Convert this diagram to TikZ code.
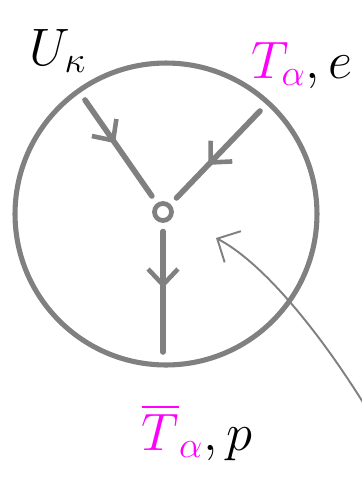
\RequirePackage{fix-cm}
\documentclass[tikz,border=0pt]{standalone}
\usepackage{amsmath,amssymb}
\usepackage{xcolor}
\usetikzlibrary{arrows.meta,decorations.markings}
\definecolor{inkgray}{HTML}{808080}
\definecolor{inkpink}{HTML}{FF00FF}

\begin{document}
\begin{tikzpicture}[x=0.02cm, y=-0.02cm, every node/.style={font=\fontsize{30}{34}\selectfont, anchor=base},
    leg/.style={inkgray, line width=3.2pt, line cap=round, postaction={decorate},
      decoration={markings, mark=at position #1 with {\arrow{Straight Barb[length=9pt,width=17pt,line width=2.6pt]}}}}]
  \def\R{6.04cm} \def\hubsize{0.34cm}
  \useasboundingbox (0,0) rectangle (362,491);
  \node[circle, draw=inkgray, line width=2.9pt, minimum size=\R, inner sep=0pt, anchor=center] (ball) at (166,214) {};
  \node[circle, draw=inkgray, line width=2.7pt, minimum size=\hubsize, inner sep=0pt, outer sep=0.22cm, anchor=center] (hub) at (163,212) {};
  \coordinate (lft) at (85,100);
  \coordinate (rgt) at (260,111);
  \coordinate (bot) at (163,352);
  \coordinate (tail) at (364,404);
  \coordinate (tip) at (216,238);
  \draw[leg=0.45] (lft) -- (hub);
  \draw[leg=0.62] (rgt) -- (hub);
  \draw[leg=0.47] (hub) -- (bot);
  \draw[inkgray, line width=1.1pt, line cap=round, -{Straight Barb[length=10pt,width=20pt,line width=1.1pt]}]
    (tail) .. controls (318,330) and (262,262) .. (tip);
  \node (uk) at (58,65) {$U_{\kappa}$};
  \node (tae) at (302,78) {$\textcolor{inkpink}{T_{\alpha}}, e$};
  \node (tap) at (197,450) {$\textcolor{inkpink}{\overline{T}_{\alpha}}, p$};
\end{tikzpicture}
\end{document}
